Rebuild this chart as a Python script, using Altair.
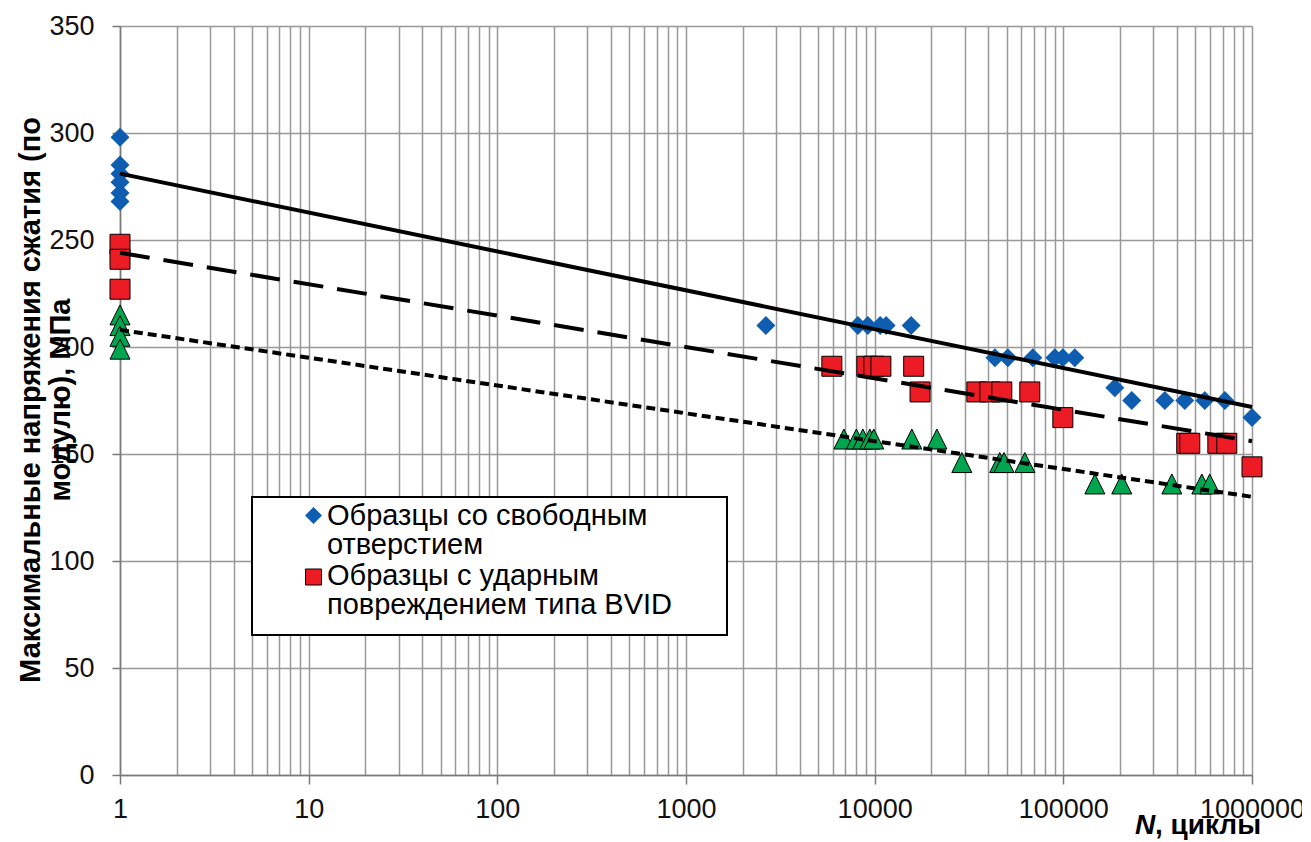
import altair as alt
import pandas as pd

# ---- data ----
blue_n = [1, 1, 1, 1, 1, 1, 2650, 8150, 9200, 10700, 11500, 15600,
          43400, 50800, 68900, 90100, 99400, 115000,
          187500, 230500, 345000, 440000, 562000, 718000, 1000000]
blue_s = [298, 285, 281, 277, 272, 268, 210, 210, 210, 210, 210, 210,
          195, 195, 195, 195, 195, 195,
          181, 175, 175, 175, 175, 175, 167]

red_n = [1, 1, 1, 5930, 9090, 9900, 10790, 16100, 17400,
         34800, 40800, 47200, 66400, 99400,
         451000, 468000, 659000, 735000, 1000000]
red_s = [248, 241, 227, 191, 191, 191, 191, 191, 179,
         179, 179, 179, 179, 167,
         155, 155, 155, 155, 144]

green_n = [1, 1, 1, 1, 6870, 8000, 8660, 9430, 9900, 15740, 21370,
           28970, 46000, 48500, 62500,
           146900, 204000, 376000, 542000, 597000]
green_s = [215, 210, 205, 199, 157, 157, 157, 157, 157, 157, 157,
           146, 146, 146, 146,
           136, 136, 136, 136, 136]

trend_n = [1, 1000000]
trend_solid = [281, 172]
trend_dashed = [244, 156]
trend_dotted = [208, 130]

decades = [1, 10, 100, 1000, 10000, 100000, 1000000]
minor_mult = [1, 2, 3, 4, 5, 6, 7, 8, 9]
y_ticks = [0, 50, 100, 150, 200, 250, 300, 350]

legend_labels = ["Образцы со свободным", "отверстием",
                 "Образцы с ударным", "повреждением  типа BVID"]
y_title = ["Максимальные напряжения сжатия (по", "модулю), МПа"]
x_title_n = "N"
x_title_rest = ", циклы"

grid_vals = [m * d for d in decades[:-1] for m in minor_mult] + [decades[-1]]

FONT = "Liberation Sans"
W, H = 1132, 749

dec_list = "[" + ",".join(str(d) for d in decades) + "]"
is_dec = f"indexof({dec_list}, datum.value) >= 0"

x_scale = alt.Scale(type="log", domain=[1, 1000000], nice=False)
y_scale = alt.Scale(domain=[0, 350], nice=False, zero=False)

x_axis = alt.Axis(
    values=grid_vals, grid=True, gridColor="#999999", gridWidth=1.5,
    domainColor="#7a7a7a", domainWidth=1.5,
    tickColor="#7a7a7a", tickWidth=1.5, tickSize=9,
    tickOpacity={"condition": {"test": is_dec, "value": 1}, "value": 0},
    labelExpr=f"{is_dec} ? format(datum.value, 'd') : ''",
    labelFont=FONT, labelFontSize=27, labelColor="#111111",
    labelPadding=12, labelBaseline="top", labelOverlap=False,
    labelFlush=False, title=None,
)
y_axis = alt.Axis(
    values=y_ticks, grid=True, gridColor="#999999", gridWidth=1.5,
    domainColor="#7a7a7a", domainWidth=1.5,
    tickColor="#7a7a7a", tickWidth=1.5, tickSize=8,
    labelFont=FONT, labelFontSize=27, labelColor="#111111",
    labelPadding=18, title=None,
)

df_blue = pd.DataFrame({"n": blue_n, "s": blue_s})
df_red = pd.DataFrame({"n": red_n, "s": red_s})
df_green = pd.DataFrame({"n": green_n, "s": green_s})
df_tr = pd.DataFrame({"n": trend_n, "solid": trend_solid,
                      "dashed": trend_dashed, "dotted": trend_dotted})
one = pd.DataFrame({"k": [0]})

X = alt.X("n:Q", scale=x_scale, axis=x_axis)
Y = alt.Y("s:Q", scale=y_scale, axis=y_axis)

blue = alt.Chart(df_blue).mark_point(
    shape="diamond", filled=True, color="#0E5DB0", size=361, opacity=1
).encode(x=X, y=Y)

red = alt.Chart(df_red).mark_point(
    shape="square", filled=True, fill="#ED1C24", stroke="#000000",
    strokeWidth=1, size=400, opacity=1
).encode(x=alt.X("n:Q", scale=x_scale), y=alt.Y("s:Q", scale=y_scale))

green = alt.Chart(df_green).mark_point(
    shape="M0,-1L-1,1L1,1Z", filled=True, fill="#00A550", stroke="#000000",
    strokeWidth=1, size=400, opacity=1
).encode(x=alt.X("n:Q", scale=x_scale), y=alt.Y("s:Q", scale=y_scale))


def trend(col, dash):
    kw = dict(color="#000000", strokeWidth=4, strokeCap="butt")
    if dash:
        kw["strokeDash"] = dash
    return alt.Chart(df_tr).mark_line(**kw).encode(
        x=alt.X("n:Q", scale=x_scale), y=alt.Y(f"{col}:Q", scale=y_scale))


l_solid = trend("solid", None)
l_dash = trend("dashed", [30, 14])
l_dot = trend("dotted", [9, 5])

# legend (drawn as marks)
leg_box = alt.Chart(one).mark_rect(
    fill="#ffffff", stroke="#000000", strokeWidth=2
).encode(x=alt.value(132), x2=alt.value(607), y=alt.value(471), y2=alt.value(609))
leg_diam = alt.Chart(one).mark_point(
    shape="diamond", filled=True, color="#0E5DB0", size=289, opacity=1
).encode(x=alt.value(193.5), y=alt.value(489.5))
leg_sq = alt.Chart(one).mark_point(
    shape="square", filled=True, fill="#ED1C24", stroke="#000000",
    strokeWidth=1, size=256, opacity=1
).encode(x=alt.value(193.5), y=alt.value(551))
leg_ys = [499, 528, 559, 588]
leg_texts = [
    alt.Chart(one).mark_text(
        text=t, font=FONT, fontSize=29, align="left", baseline="alphabetic",
        color="#000000"
    ).encode(x=alt.value(207), y=alt.value(yy))
    for t, yy in zip(legend_labels, leg_ys)
]

# axis titles
yt1 = alt.Chart(one).mark_text(
    text=y_title[0], font=FONT, fontSize=29, fontWeight="bold", angle=270,
    align="center", baseline="middle", color="#000000"
).encode(x=alt.value(-89), y=alt.value(374))
yt2 = alt.Chart(one).mark_text(
    text=y_title[1], font=FONT, fontSize=29, fontWeight="bold", angle=270,
    align="center", baseline="middle", color="#000000"
).encode(x=alt.value(-59), y=alt.value(374))
xt1 = alt.Chart(one).mark_text(
    text=x_title_n, font=FONT, fontSize=28, fontWeight="bold",
    fontStyle="italic", align="left", baseline="alphabetic", color="#000000"
).encode(x=alt.value(1015), y=alt.value(808))
xt2 = alt.Chart(one).mark_text(
    text=x_title_rest, font=FONT, fontSize=28, fontWeight="bold",
    align="left", baseline="alphabetic", color="#000000"
).encode(x=alt.value(1035), y=alt.value(808))

chart = alt.layer(
    blue, red, green, l_solid, l_dash, l_dot,
    leg_box, leg_diam, leg_sq, *leg_texts, yt1, yt2, xt1, xt2
).properties(
    width=W, height=H,
    autosize=alt.AutoSizeParams(type="none"),
    padding={"left": 112, "top": 18, "right": 50, "bottom": 67},
).configure_view(stroke=None).configure(background="#ffffff")

chart.save("out.html", embed_options={"renderer": "svg", "actions": False})
